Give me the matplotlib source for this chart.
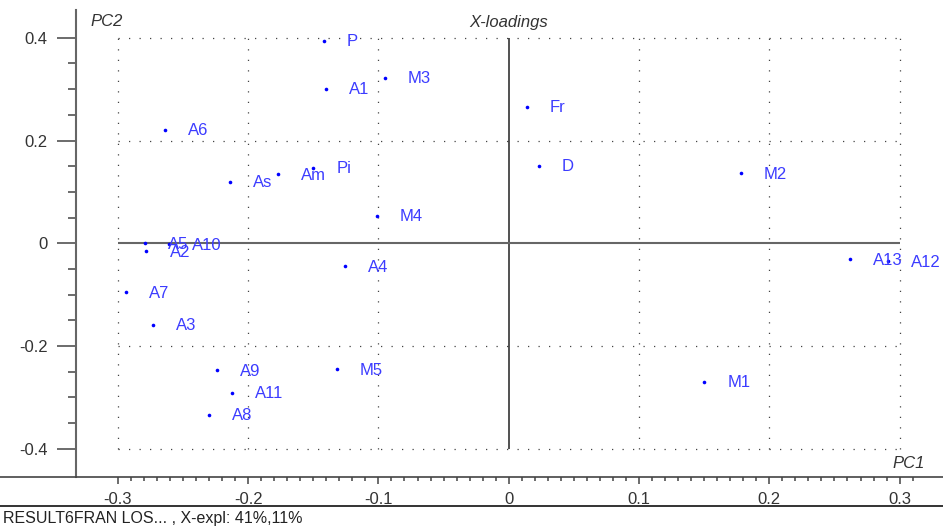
import numpy as np
import matplotlib
matplotlib.use("Agg")
import matplotlib.pyplot as plt
from matplotlib.lines import Line2D
from matplotlib.ticker import FixedLocator

plt.rcParams['font.family'] = ['Liberation Sans', 'DejaVu Sans']

# loadings
names = ['P', 'A1', 'M3', 'Fr', 'D', 'M2', 'A6', 'As', 'Am', 'Pi', 'M4',
         'A5', 'A2', 'A10', 'A4', 'A7', 'A3', 'A13', 'A12', 'M5', 'A9',
         'A11', 'A8', 'M1']
pc1 = [-0.142, -0.140, -0.095, 0.014, 0.023, 0.178, -0.264, -0.214, -0.177,
       -0.150, -0.101, -0.279, -0.278, -0.261, -0.126, -0.294, -0.273,
       0.262, 0.291, -0.132, -0.224, -0.2125, -0.230, 0.150]
pc2 = [0.394, 0.301, 0.322, 0.266, 0.151, 0.136, 0.221, 0.120, 0.134,
       0.147, 0.054, 0.000, -0.016, -0.002, -0.045, -0.095, -0.159,
       -0.031, -0.035, -0.245, -0.247, -0.291, -0.334, -0.270]

xticks = [-0.3, -0.2, -0.1, 0, 0.1, 0.2, 0.3]
xticklabels = ['-0.3', '-0.2', '-0.1', '0', '0.1', '0.2', '0.3']
yticks = [0.4, 0.2, 0, -0.2, -0.4]
yticklabels = ['0.4', '0.2', '0', '-0.2', '-0.4']

W, H = 943, 529
fig = plt.figure(figsize=(W / 100, H / 100), dpi=100)
ax = fig.add_axes([76 / W, (H - 477) / H, 1 - 76 / W, (477 - 9.5) / H])
ax.set_xlim(-0.3321, 0.3333)
ax.set_ylim(-0.455, 0.455)

for s in ['top', 'right', 'bottom']:
    ax.spines[s].set_visible(False)
ax.spines['left'].set_color('#666666')
ax.spines['left'].set_linewidth(1.5)

# dotted grid inside the box
dots = (0, (1, 7.4))
for x in xticks:
    if x != 0:
        ax.vlines(x, -0.4, 0.4, colors='#444444', linestyles=dots, lw=0.9)
for y in yticks:
    if y != 0:
        ax.hlines(y, -0.3, 0.3, colors='#444444', linestyles=dots, lw=0.9)
ax.vlines(0, -0.4, 0.4, colors='#222222', lw=1.1)
ax.hlines(0, -0.3, 0.3, colors='#666666', lw=1.5)

ax.plot(pc1, pc2, 'o', color='#0000ff', ms=2.6, mec='none')
for n, x, y in zip(names, pc1, pc2):
    ax.annotate(n, (x, y), xytext=(23, -1), textcoords='offset pixels',
                va='center', ha='left', color='#3c3cff', fontsize=12)

ax.set_xticks(xticks)
ax.set_xticklabels(xticklabels)
ax.set_yticks(yticks)
ax.set_yticklabels(yticklabels)
ax.xaxis.set_minor_locator(FixedLocator(np.arange(-0.30, 0.315, 0.01)))
ax.yaxis.set_minor_locator(FixedLocator(np.arange(-0.40, 0.41, 0.05)))
ax.tick_params(axis='y', which='major', length=13.5, width=1.1, pad=7,
               color='#444444', labelcolor='#333333', labelsize=12)
ax.tick_params(axis='y', which='minor', length=5.8, width=1.1, color='#444444')
ax.tick_params(axis='x', which='major', length=5, width=1.1, pad=6,
               color='#444444', labelcolor='#333333', labelsize=12)
ax.tick_params(axis='x', which='minor', length=2.9, width=1.1, color='#444444')

# axis line across the whole width and the footer rule
fig.add_artist(Line2D([0, 1], [(H - 477) / H] * 2, color='#444444', lw=1.2,
                      transform=fig.transFigure))
fig.add_artist(Line2D([0, 1], [(H - 506) / H] * 2, color='#111111', lw=1.2,
                      transform=fig.transFigure))

fig.text(90 / W, 1 - 22 / H, 'PC2', style='italic', fontsize=12,
         color='#333333', va='center', ha='left')
fig.text(509 / W, 1 - 22 / H, 'X-loadings', style='italic', fontsize=12,
         color='#333333', va='center', ha='center')
fig.text(925 / W, 1 - 463 / H, 'PC1', style='italic', fontsize=12,
         color='#333333', va='center', ha='right')
fig.text(3 / W, 1 - 518 / H, 'RESULT6FRAN LOS... , X-expl: 41%,11%',
         fontsize=11.5, color='#222222', va='center', ha='left')

fig.savefig('out.png', dpi=100)
